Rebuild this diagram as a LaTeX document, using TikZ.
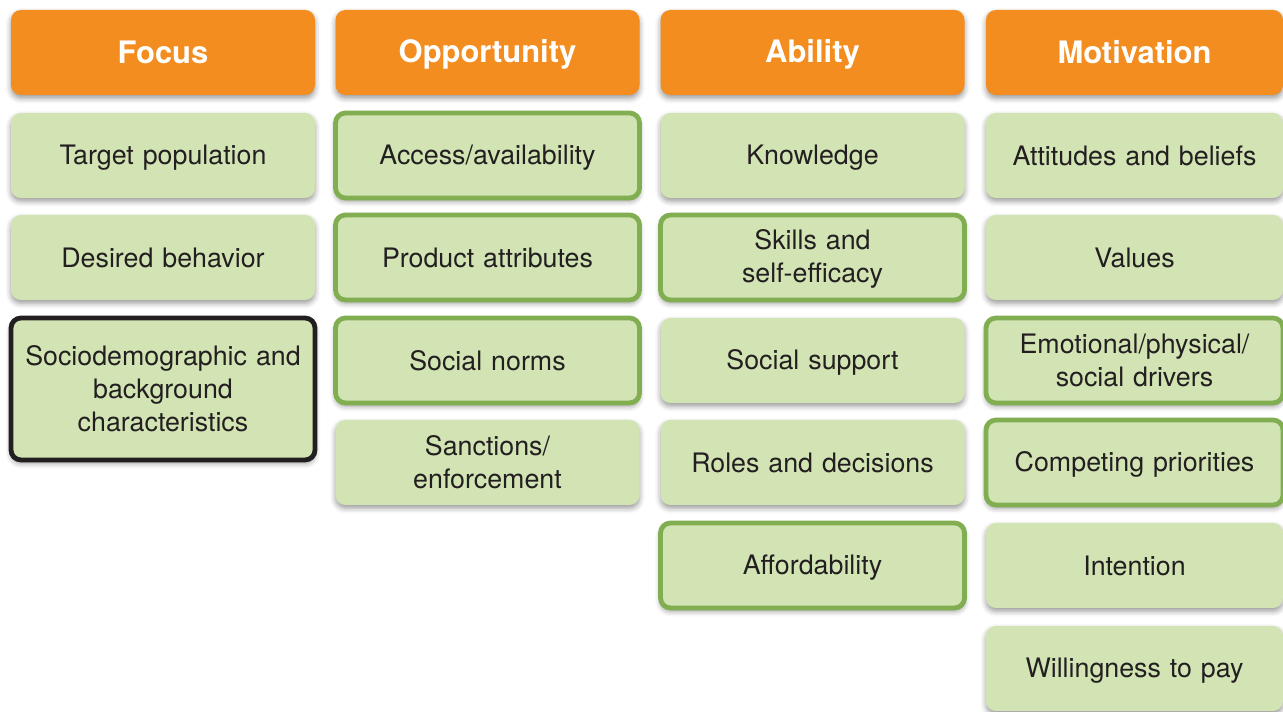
\documentclass[tikz,border=0pt]{standalone}
\usepackage{fontspec}
\setmainfont{TeX Gyre Heros}
\usetikzlibrary{shadows.blur}
\definecolor{hdrorange}{RGB}{244,141,31}
\definecolor{cellgreen}{RGB}{210,228,180}
\definecolor{edgegreen}{RGB}{128,174,80}
\definecolor{inkgray}{RGB}{35,31,32}
\newcommand{\cellstrutA}{\rule{0pt}{17.8pt}}
\newcommand{\cellstrutB}{\rule[-3.3pt]{0pt}{3.3pt}}
\newcommand{\hdrstrutA}{\rule{0pt}{20pt}}
\newcommand{\hdrstrutB}{\rule[-3.3pt]{0pt}{3.3pt}}
\tikzset{
  base/.style={rectangle, rounded corners=7.5pt, inner sep=0pt, align=center,
    minimum width=228pt, minimum height=63.75pt, text width=218pt,
    blur shadow={shadow xshift=0pt, shadow yshift=-2.5pt, shadow blur radius=4pt, shadow opacity=40}},
  hdr/.style={base, fill=hdrorange, text=white, font=\fontsize{23.2pt}{27pt}\selectfont\bfseries,
    execute at begin node=\hdrstrutA, execute at end node=\hdrstrutB},
  cell/.style={base, fill=cellgreen, text=inkgray, font=\fontsize{20.1pt}{24.7pt}\selectfont,
    execute at begin node=\cellstrutA, execute at end node=\cellstrutB},
  gcell/.style={cell, draw=edgegreen, line width=3.6pt},
  kcell/.style={cell, draw=inkgray, line width=3.6pt},
  lastcol/.style={minimum width=222.75pt},
}
\begin{document}
\begin{tikzpicture}[x=0.75pt, y=-0.75pt]
\useasboundingbox (0,0) rectangle (1283,712);
% headers
\node[hdr] (hF) at (163,52.5) {Focus};
\node[hdr] (hO) at (487.5,52.5) {Opportunity};
\node[hdr] (hA) at (812.5,52.5) {Ability};
\node[hdr, lastcol] (hM) at (1134.5,52.5) {Motivation};
% Focus
\node[cell] (f1) at (163,155.5) {Target population};
\node[cell] (f2) at (163,257.5) {Desired behavior};
\node[kcell, minimum height=106.5pt] (f3) at (163,389) {Sociodemographic and\\background\\characteristics};
% Opportunity
\node[gcell] (o1) at (487.5,155.5) {Access/availability};
\node[gcell] (o2) at (487.5,257.5) {Product attributes};
\node[gcell] (o3) at (487.5,360.5) {Social norms};
\node[cell] (o4) at (487.5,462.5) {Sanctions/\\enforcement};
% Ability
\node[cell] (a1) at (812.5,155.5) {Knowledge};
\node[gcell] (a2) at (812.5,257.5) {Skills and\\self-efficacy};
\node[cell] (a3) at (812.5,360.5) {Social support};
\node[cell] (a4) at (812.5,462.5) {Roles and decisions};
\node[gcell] (a5) at (812.5,565.5) {Affordability};
% Motivation
\node[cell, lastcol] (m1) at (1134.5,155.5) {Attitudes and beliefs};
\node[cell, lastcol] (m2) at (1134.5,257.5) {Values};
\node[gcell, lastcol] (m3) at (1134.5,360.5) {Emotional/physical/\\social drivers};
\node[gcell, lastcol] (m4) at (1134.5,462.5) {Competing priorities};
\node[cell, lastcol] (m5) at (1134.5,565.5) {Intention};
\node[cell, lastcol] (m6) at (1134.5,668.5) {Willingness to pay};
\end{tikzpicture}
\end{document}
